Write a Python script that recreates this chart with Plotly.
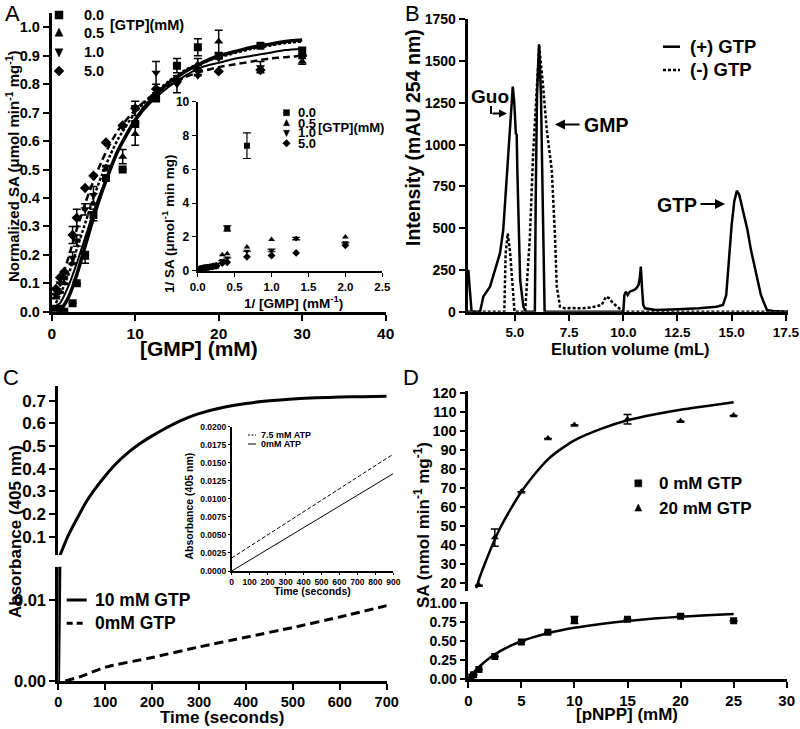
import plotly.graph_objects as go

FONT = "Liberation Sans, Arial, sans-serif"

# ---------------- Panel A data ----------------
gmp_mM = [0.5, 1, 1.5, 2.5, 3, 4, 5, 6.5, 8.5, 10, 12.5, 15, 17.5, 20, 25, 30]
sa_gtp0 = [0.01, 0.01, 0.0, 0.03, 0.10, 0.20, 0.34, 0.47, 0.50, 0.66, 0.75, 0.865, 0.93, 0.90, 0.935, 0.915]
err_gtp0 = [0, 0, 0, 0, 0, 0, 0.02, 0, 0, 0, 0, 0.025, 0.03, 0, 0, 0.015]
sa_gtp05 = [0.05, 0.07, 0.10, 0.17, 0.10, 0.19, 0.38, 0.50, 0.545, 0.625, 0.77, 0.82, 0.87, 0.95, 0.935, 0.88]
err_gtp05 = [0, 0, 0, 0, 0, 0.02, 0, 0, 0.025, 0.04, 0, 0, 0.02, 0.04, 0, 0.01]
sa_gtp1 = [0.06, 0.10, 0.12, 0.19, 0.25, 0.36, 0.41, 0.51, 0.65, 0.72, 0.84, 0.80, 0.83, 0.89, 0.86, 0.90]
err_gtp1 = [0, 0, 0.02, 0.02, 0.02, 0.02, 0.03, 0, 0, 0, 0.04, 0.03, 0, 0, 0.02, 0]
sa_gtp5 = [0.08, 0.12, 0.14, 0.27, 0.33, 0.435, 0.478, 0.595, 0.655, 0.715, 0.783, 0.81, 0.85, 0.845, 0.85, 0.90]
err_gtp5 = [0, 0, 0, 0.03, 0.03, 0, 0, 0, 0, 0.025, 0, 0, 0, 0, 0, 0]

fit_x0 = [1, 2, 3, 4, 5, 6, 7, 8, 10, 12, 14, 16, 18, 20, 22, 24, 26, 28, 30]
fit_gtp0 = [0.0, 0.05, 0.13, 0.23, 0.33, 0.42, 0.50, 0.57, 0.675, 0.75, 0.805, 0.845, 0.875, 0.90, 0.915, 0.93, 0.94, 0.95, 0.955]
fit_x = [0.5, 1, 2, 3, 4, 5, 6, 7, 8, 10, 12, 14, 16, 18, 20, 22, 24, 26, 28, 30]
fit_gtp05 = [0.03, 0.06, 0.13, 0.22, 0.31, 0.40, 0.48, 0.55, 0.61, 0.70, 0.76, 0.81, 0.85, 0.875, 0.895, 0.91, 0.925, 0.935, 0.945, 0.95]
fit_gtp1 = [0.02, 0.03, 0.09, 0.17, 0.26, 0.35, 0.43, 0.50, 0.57, 0.67, 0.74, 0.79, 0.83, 0.86, 0.875, 0.89, 0.90, 0.91, 0.92, 0.925]
fit_gtp5 = [0.06, 0.10, 0.19, 0.29, 0.38, 0.46, 0.53, 0.59, 0.64, 0.71, 0.76, 0.795, 0.825, 0.845, 0.86, 0.87, 0.88, 0.89, 0.895, 0.90]

# Panel A inset (double reciprocal)
inv_gmp0 = [0.667, 0.4, 0.25, 0.2, 0.154, 0.118, 0.1, 0.08, 0.067, 0.057, 0.05, 0.04, 0.033]
inv_sa0 = [7.4, 2.5, 0.30, 0.25, 0.22, 0.19, 0.17, 0.15, 0.13, 0.12, 0.11, 0.10, 0.10]
inv_err0 = [0.76, 0.15, 0, 0, 0, 0, 0, 0, 0, 0, 0, 0, 0]
inv_gmp = [2.0, 1.333, 1.0, 0.667, 0.4, 0.333, 0.25, 0.2, 0.154, 0.118, 0.1, 0.08, 0.067, 0.05, 0.033]
inv_sa05 = [2.0, 1.9, 1.85, 1.4, 1.0, 0.95, 0.32, 0.27, 0.23, 0.2, 0.17, 0.15, 0.13, 0.11, 0.1]
inv_sa1 = [1.65, 1.9, 1.2, 1.15, 0.75, 0.6, 0.3, 0.26, 0.22, 0.19, 0.16, 0.14, 0.12, 0.1, 0.09]
inv_err1 = [0, 0.08, 0.08, 0, 0, 0, 0, 0, 0, 0, 0, 0, 0, 0, 0]
inv_sa5 = [1.5, 1.05, 0.9, 0.82, 0.5, 0.45, 0.28, 0.24, 0.2, 0.17, 0.15, 0.13, 0.11, 0.09, 0.08]

# ---------------- Panel B data ----------------
elu_plus = [2.82, 2.85, 2.9, 2.95, 3.0, 3.39, 3.43, 3.54, 3.85, 4.16, 4.31, 4.46, 4.70, 4.81, 4.90, 4.97, 5.04, 5.08, 5.11, 5.24, 5.39, 5.5,
            5.92, 5.96, 6.02, 6.11, 6.2, 6.29, 6.34, 6.37, 7.0, 8.0, 9.0, 10.0, 10.05, 10.12, 10.2, 10.3, 10.4, 10.5, 10.6, 10.7,
            10.76, 10.81, 10.86, 10.92, 11.0, 11.5, 12.5, 13.5, 14.3, 14.6, 14.75, 14.86, 15.0, 15.12, 15.24, 15.35, 15.5, 15.73,
            15.89, 16.05, 16.2, 16.35, 16.5, 16.63, 16.9, 17.2, 17.6]
int_plus = [210, 250, 160, 60, 0, 0, 30, 90, 150, 290, 350, 489, 948, 1187, 1347, 1250, 1067, 1060, 848, 190, 30, 0,
            0, 700, 1300, 1600, 1300, 600, 100, 0, 0, 0, 0, 0, 100, 120, 100, 120, 125, 130, 140, 160,
            200, 270, 150, 40, 20, 10, 15, 20, 30, 40, 100, 300, 520, 660, 724, 700, 620, 489,
            370, 280, 180, 100, 50, 10, 4, 2, 0]
elu_minus = [2.82, 4.51, 4.57, 4.67, 4.78, 4.88, 4.98, 5.47, 5.69, 5.84, 6.0, 6.12, 6.3, 6.47, 6.6, 6.7, 6.85, 6.93, 7.08, 7.3,
             7.6, 8.0, 8.5, 9.0, 9.2, 9.35, 9.5, 9.7, 9.9, 10.0, 17.6]
int_minus = [0, 0, 349, 469, 349, 150, 0, 0, 449, 948, 1347, 1590, 1347, 1087, 950, 848, 449, 150, 30, 20,
             22, 20, 25, 40, 90, 80, 55, 30, 10, 0, 0]

# ---------------- Panel C data ----------------
time_s = [0, 3, 10, 20, 40, 60, 80, 100, 125, 150, 175, 200, 225, 250, 275, 300, 350, 400, 450, 500, 550, 600, 650, 700]
abs_gtp10 = [0.0, 0.015, 0.05, 0.10, 0.18, 0.255, 0.315, 0.368, 0.426, 0.473, 0.512, 0.545, 0.574, 0.601, 0.624, 0.643,
             0.670, 0.688, 0.700, 0.708, 0.713, 0.716, 0.718, 0.72]
time_s0 = [15, 50, 100, 200, 300, 400, 500, 600, 700]
abs_gtp0 = [0.0, 0.0006, 0.0017, 0.0029, 0.0042, 0.0054, 0.0066, 0.0079, 0.0093]
inset_time = [0, 900]
abs_atp75 = [0.0018, 0.0162]
abs_atp0 = [0.0, 0.0135]

# ---------------- Panel D data ----------------
pnpp = [0.25, 0.5, 1, 2.5, 5, 7.5, 10, 15, 20, 25]
sa_0gtp = [0.03, 0.06, 0.13, 0.30, 0.49, 0.62, 0.78, 0.79, 0.83, 0.77]
err_0gtp = [0, 0, 0, 0, 0, 0, 0.045, 0, 0.015, 0]
pnpp20 = [1, 2.5, 5, 7.5, 10, 15, 20, 25]
sa_20gtp = [19, 44, 68, 96, 103, 106, 105, 108]
err_20gtp = [0, 4.5, 0, 0, 0, 2.5, 0, 0]
fitd_x20 = [0.75, 1, 1.5, 2, 2.5, 3, 4, 5, 6, 7.5, 8.75, 10, 12.5, 15, 17.5, 20, 22.5, 25]
fitd_y20 = [17.5, 22, 29.5, 36.5, 43, 49, 59, 68, 75.5, 85, 90.5, 95, 101, 105.5, 108.5, 111, 113, 115]
fitd_x0 = [0, 0.5, 1, 2, 3, 4, 5, 6, 7.5, 10, 12.5, 15, 17.5, 20, 22.5, 25]
fitd_y0 = [0, 0.088, 0.162, 0.28, 0.371, 0.442, 0.50, 0.548, 0.606, 0.677, 0.729, 0.768, 0.799, 0.823, 0.843, 0.86]

BLK = "black"
fig = go.Figure()


def px_x(p):
    return p / 800.0


def px_y(p):
    return 1 - p / 729.0


def eb(arr, w=4, th=1.5):
    return dict(type="data", array=arr, visible=True, color=BLK, thickness=th, width=w)


def line(xv, yv, xa, ya, width, dash="solid"):
    fig.add_trace(go.Scatter(x=xv, y=yv, mode="lines", line=dict(color=BLK, width=width, dash=dash, shape="spline", smoothing=0.6),
                             showlegend=False, hoverinfo="skip", xaxis=xa, yaxis=ya))


def rawline(xv, yv, xa, ya, width, dash="solid"):
    fig.add_trace(go.Scatter(x=xv, y=yv, mode="lines", line=dict(color=BLK, width=width, dash=dash),
                             showlegend=False, hoverinfo="skip", xaxis=xa, yaxis=ya))


def pts(xv, yv, xa, ya, symbol, size, err=None, w=4, th=1.5):
    fig.add_trace(go.Scatter(x=xv, y=yv, mode="markers", marker=dict(symbol=symbol, size=size, color=BLK),
                             error_y=eb(err, w, th) if err else None, showlegend=False, xaxis=xa, yaxis=ya))


# ---- Panel A main ----
sym = ["square", "triangle-up", "triangle-down", "diamond"]
labels = ["0.0", "0.5", "1.0", "5.0"]
series = [(sa_gtp0, err_gtp0), (sa_gtp05, err_gtp05), (sa_gtp1, err_gtp1), (sa_gtp5, err_gtp5)]
for s, (yv, ev) in zip(sym, series):
    pts(gmp_mM, yv, "x", "y", s, 8, ev)
line(fit_x0, fit_gtp0, "x", "y", 3.5)
line(fit_x, fit_gtp05, "x", "y", 2.5, "3px,2px")
line(fit_x, fit_gtp1, "x", "y", 2)
line(fit_x, fit_gtp5, "x", "y", 2.5, "7px,4px")

# ---- Panel A inset ----
inset_series = [(inv_gmp0, inv_sa0, inv_err0), (inv_gmp, inv_sa05, None), (inv_gmp, inv_sa1, inv_err1), (inv_gmp, inv_sa5, None)]
for s, (xv, yv, ev) in zip(sym, inset_series):
    pts(xv, yv, "x2", "y2", s, 6, ev, 4, 1.2)

# ---- Panel B ----
rawline(elu_plus, int_plus, "x3", "y3", 2.5)
rawline(elu_minus, int_minus, "x3", "y3", 2.5, "3px,2px")

# ---- Panel C ----
line(time_s, abs_gtp10, "x4", "y4", 3)
rawline(time_s, abs_gtp10, "x5", "y5", 3.5)
line(time_s0, abs_gtp0, "x5", "y5", 3, "9px,5px")
rawline(inset_time, abs_atp75, "x6", "y6", 1, "4px,2px")
rawline(inset_time, abs_atp0, "x6", "y6", 1)

# ---- Panel D ----
pts(pnpp, sa_0gtp, "x8", "y8", "square", 7, err_0gtp)
pts(pnpp20, sa_20gtp, "x7", "y7", "triangle-up", 7, err_20gtp)
line(fitd_x20, fitd_y20, "x7", "y7", 2.5)
line(fitd_x0, fitd_y0, "x8", "y8", 2.5)


def ax(domain, rng, anchor, tickvals=None, fmt=None, size=14, lw=3, visible=True, ticklen=6):
    d = dict(domain=domain, range=rng, anchor=anchor, showgrid=False, zeroline=False, automargin=False,
             showline=visible, linecolor=BLK, linewidth=lw, ticks="outside" if visible else "",
             ticklen=ticklen, tickwidth=max(lw - 1, 1), tickcolor=BLK, showticklabels=visible,
             tickangle=0, tickfont=dict(size=size, family=FONT, color=BLK, weight="bold"), fixedrange=True)
    if tickvals is not None:
        d["tickmode"] = "array"
        d["tickvals"] = tickvals
    if fmt:
        d["tickformat"] = fmt
    return d


layout = dict(
    width=800, height=729, margin=dict(l=0, r=0, t=0, b=0, autoexpand=False),
    paper_bgcolor="white", plot_bgcolor="rgba(0,0,0,0)", showlegend=False,
    font=dict(family=FONT, color=BLK, weight="bold"),
    xaxis=ax([px_x(51.7), px_x(385.7)], [0, 40], "y", [0, 10, 20, 30, 40], None, 15.5),
    yaxis=ax([px_y(311.7), px_y(13.1)], [0, 1.05], "x", [i / 10 for i in range(11)], ".1f", 14.5),
    xaxis2=ax([px_x(197.7), px_x(382.3)], [0, 2.5], "y2", [0, 0.5, 1, 1.5, 2, 2.5], ".1f", 11.5, lw=2, ticklen=4),
    yaxis2=ax([px_y(270.7), px_y(101.7)], [0, 10], "x2", [0, 2, 4, 6, 8, 10], None, 12, lw=2, ticklen=4),
    xaxis3=ax([px_x(467.7), px_x(788)], [2.82, 17.6], "y3", [5, 7.5, 10, 12.5, 15, 17.5], ".1f", 13.5),
    yaxis3=ax([px_y(311.7), px_y(19.3)], [0, 1750], "x3", list(range(0, 1751, 250)), None, 14),
    xaxis4=ax([px_x(58.3), px_x(386.7)], [0, 700], "y4", visible=False),
    yaxis4=ax([px_y(555), px_y(386)], [0.019, 0.765], "x4", [0.1, 0.2, 0.3, 0.4, 0.5, 0.6, 0.7], ".1f", 17),
    xaxis5=ax([px_x(58.3), px_x(386.7)], [0, 700], "y5", list(range(0, 701, 100)), None, 14.5),
    yaxis5=ax([px_y(681), px_y(566.7)], [0, 0.0141], "x5", [0, 0.01], ".2f", 16.5),
    xaxis6=ax([px_x(231.7), px_x(393.3)], [0, 900], "y6", list(range(0, 901, 100)), None, 8.5, lw=1.5, ticklen=2),
    yaxis6=ax([px_y(571), px_y(426.7)], [0, 0.02], "x6", [i * 0.0025 for i in range(9)], ".4f", 8.5, lw=1.5, ticklen=2),
    xaxis7=ax([px_x(468.3), px_x(786.7)], [0, 30], "y7", visible=False),
    yaxis7=ax([px_y(591), px_y(390.7)], [16, 121], "x7", list(range(20, 121, 10)), None, 14.5, lw=2.5),
    xaxis8=ax([px_x(468.3), px_x(786.7)], [0, 30], "y8", [0, 5, 10, 15, 20, 25, 30], None, 15, lw=2.5),
    yaxis8=ax([px_y(679.3), px_y(602.3)], [0, 1.013], "x8", [0, 0.25, 0.5, 0.75, 1.0], ".2f", 14, lw=2.5),
)
fig.update_layout(**layout)


def note(x, y, text, size, weight="bold", xanchor="center", **kw):
    fig.add_annotation(x=px_x(x), y=px_y(y), xref="paper", yref="paper", text=text, showarrow=False,
                       xanchor=xanchor, yanchor="middle",
                       font=dict(size=size, family=FONT, color=BLK, weight=weight), **kw)


def arrow(xh, yh, dx, dy, size=1.0):
    fig.add_annotation(x=px_x(xh), y=px_y(yh), ax=dx, ay=dy, xref="paper", yref="paper",
                       axref="pixel", ayref="pixel", text="", showarrow=True, arrowhead=2,
                       arrowsize=size, arrowwidth=2, arrowcolor=BLK)


MARK_PATHS = {
    "square": "M -{r},-{r} L {r},-{r} L {r},{r} L -{r},{r} Z",
    "triangle-up": "M -{r},-{s} L {r},-{s} L 0,{t} Z",
    "triangle-down": "M -{r},{s} L {r},{s} L 0,-{t} Z",
    "diamond": "M 0,-{t} L {t},0 L 0,{t} L -{t},0 Z",
}


def key_marker(cx, cy, symbol, r):
    path = MARK_PATHS[symbol].format(r=r, s=r * 0.8, t=r * 1.25)
    fig.add_shape(type="path", xref="paper", yref="paper", xsizemode="pixel", ysizemode="pixel",
                  xanchor=px_x(cx), yanchor=px_y(cy), path=path, fillcolor=BLK, line=dict(color=BLK, width=0.5))


def key_line(x0, x1, y, width, dash="solid"):
    fig.add_shape(type="line", xref="paper", yref="paper", x0=px_x(x0), x1=px_x(x1), y0=px_y(y), y1=px_y(y),
                  line=dict(color=BLK, width=width, dash=dash))


# panel letters
note(12, 14, "A", 22, weight="normal")
note(412, 14, "B", 22, weight="normal")
note(11, 377, "C", 22, weight="normal")
note(411, 377, "D", 22, weight="normal")

# ---- axis titles ----
note(199, 348, "[GMP] (mM)", 21)
note(12, 166, "Normalized SA (μmol min<sup>-1</sup> mg<sup>-1</sup>)", 15, textangle=-90)
note(293, 302, "1/ [GMP] (mM<sup>-1</sup>)", 13.5)
note(168, 224, "1/ SA (μmol<sup>-1</sup> min mg)", 13.5, textangle=-90)
note(630, 349, "Elution volume (mL)", 16.5)
note(413, 138, "Intensity (mAU 254 nm)", 19.5, textangle=-90)
note(222, 717, "Time (seconds)", 17)
note(15, 532, "Absorbance (405 nm)", 17, textangle=-90)
note(312, 591, "Time (seconds)", 10.5)
note(188.5, 506, "Absorbance (405 nm)", 10.5, textangle=-90)
note(627, 714, "[pNPP] (mM)", 17)
note(422, 525, "SA (nmol min<sup>-1</sup> mg<sup>-1</sup>)", 17, textangle=-90)

# ---- legends ----
a_rows = [15, 33, 52, 71]
for s, lab, yy in zip(sym, labels, a_rows):
    key_marker(59, yy, s, 4)
    note(82, yy, lab, 14.5, xanchor="left")
note(108, 25, "[GTP](mM)", 14.5, xanchor="left")

ai_rows = [112.7, 123.3, 132.7, 143.3]
for s, lab, yy in zip(sym, labels, ai_rows):
    key_marker(286.5, yy, s, 3)
    note(296, yy, lab, 13, xanchor="left")
note(316, 127, "[GTP](mM)", 13, xanchor="left")

key_line(663, 680, 46.7, 2.5)
note(688, 46.7, "(+) GTP", 18.5, xanchor="left")
key_line(663, 680, 70, 2.5, "3px,2px")
note(688, 70, "(-) GTP", 18.5, xanchor="left")

key_line(66.7, 86.7, 600, 3)
note(93, 600, "10 mM GTP", 17.5, xanchor="left")
key_line(66.7, 86.7, 623.3, 3, "6px,4px")
note(93, 623.3, "0mM GTP", 17.5, xanchor="left")

key_line(248, 256, 435, 1, "2px,1.5px")
note(259, 435, "7.5 mM ATP", 9, xanchor="left")
key_line(248, 256, 444, 1)
note(259, 444, "0mM ATP", 9, xanchor="left")

key_marker(638.3, 483.3, "square", 3.5)
note(656.7, 483.3, "0 mM GTP", 17, xanchor="left")
key_marker(638.3, 508.3, "triangle-up", 3.5)
note(656.7, 508.3, "20 mM GTP", 17, xanchor="left")

# Panel B peak labels with arrows
note(490, 96, "Guo", 19)
note(606, 125, "GMP", 19.5)
note(677, 205, "GTP", 19.5)
arrow(555, 124.5, 26, 0)
arrow(725, 204, -26, 0)
arrow(507, 113.5, -16, 0, 0.8)
fig.add_shape(type="line", xref="paper", yref="paper", x0=px_x(491), y0=px_y(106), x1=px_x(491), y1=px_y(114),
              line=dict(color=BLK, width=2))

fig.write_html("out.html", config={"displayModeBar": False},
               post_script="document.body.style.margin='0';")
